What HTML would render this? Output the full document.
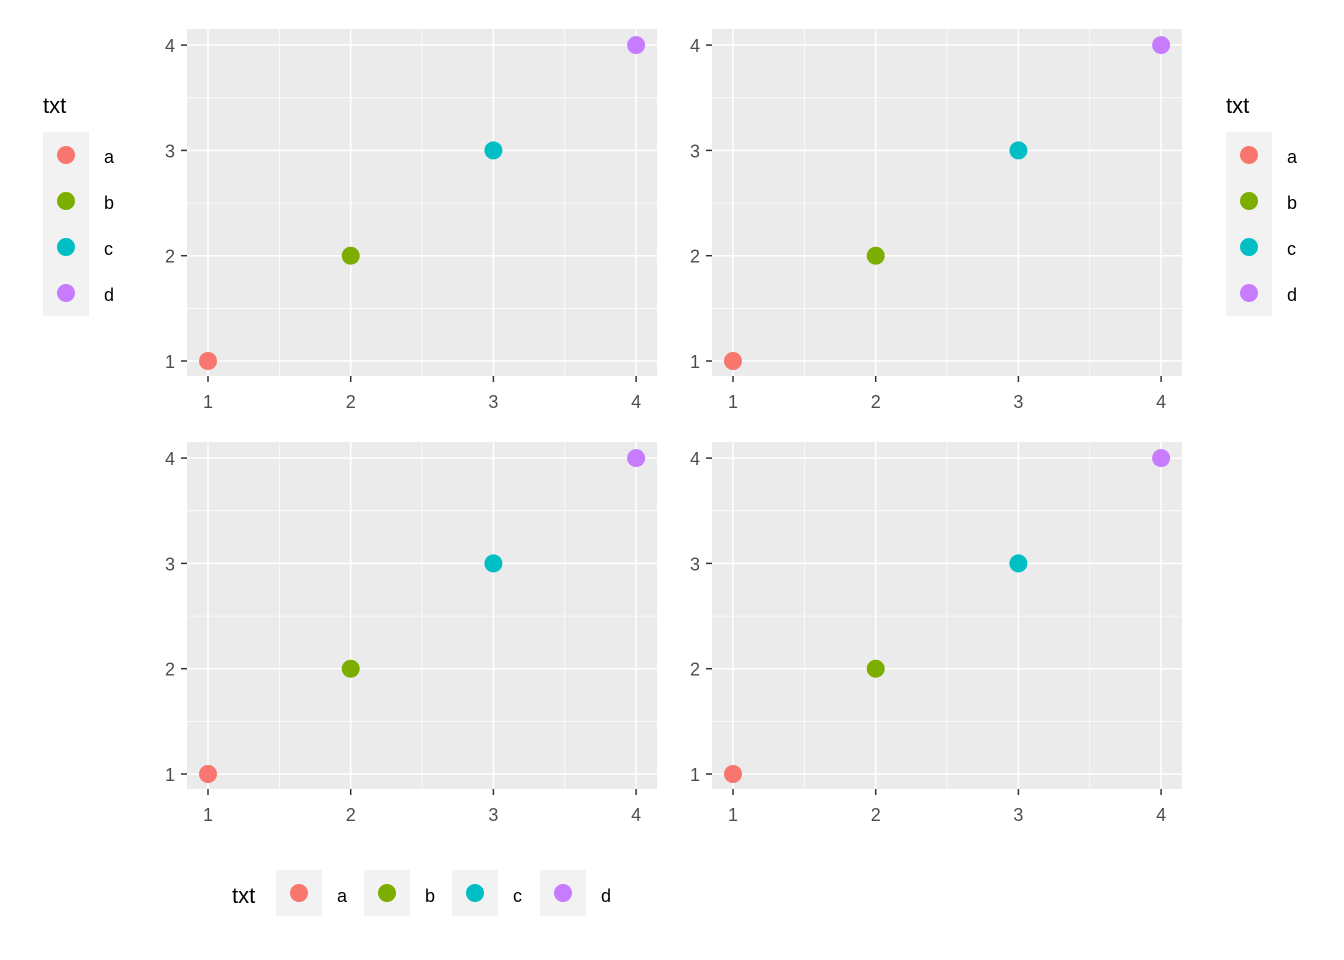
<!DOCTYPE html>
<html><head><meta charset="utf-8"><style>body{margin:0;background:#fff}svg{display:block}</style></head>
<body>
<svg id="c" width="1344" height="960" xmlns="http://www.w3.org/2000/svg" font-family="Liberation Sans, sans-serif"></svg>
<script>
const categories=['a','b','c','d'];
const xValues=[1,2,3,4];
const yValues=[1,2,3,4];
const xTicks=[1,2,3,4];
const yTicks=[1,2,3,4];
const colors=['#F8766D','#7CAE00','#00BFC4','#C77CFF'];
const NS='http://www.w3.org/2000/svg';
const svg=document.getElementById('c');
function mk(t,a,p){const e=document.createElementNS(NS,t);for(const k in a)e.setAttribute(k,a[k]);(p||svg).appendChild(e);return e;}
const panels=[[187,29],[712,29],[187,442],[712,442]];
const W=470,H=347;
panels.forEach((p,pi)=>{
  const g=mk('g',{});
  
  
  const [px,py]=p;
  const sx=v=>px+21+(v-1)*142.7;
  const sy=v=>py+332-(v-1)*105.3;
  const bg=mk('rect',{x:px,y:py,width:W,height:H,fill:'#EBEBEB'},g);
  
  
  for(let i=0;i<xTicks.length-1;i++){const m=(xTicks[i]+xTicks[i+1])/2;mk('line',{x1:sx(m),x2:sx(m),y1:py,y2:py+H,stroke:'#fff','stroke-width':0.7},g);}
  for(let i=0;i<yTicks.length-1;i++){const m=(yTicks[i]+yTicks[i+1])/2;mk('line',{y1:sy(m),y2:sy(m),x1:px,x2:px+W,stroke:'#fff','stroke-width':0.7},g);}
  xTicks.forEach(t=>{
    mk('line',{x1:sx(t),x2:sx(t),y1:py,y2:py+H,stroke:'#fff','stroke-width':1.5},g);
    mk('line',{x1:sx(t),x2:sx(t),y1:py+H,y2:py+H+6,stroke:'#333','stroke-width':1.5},g);
    const tx=mk('text',{x:sx(t),y:py+H+32,'text-anchor':'middle','font-size':18,fill:'#4D4D4D'},g);tx.textContent=t;
    
    
  });
  yTicks.forEach(t=>{
    mk('line',{y1:sy(t),y2:sy(t),x1:px,x2:px+W,stroke:'#fff','stroke-width':1.5},g);
    mk('line',{y1:sy(t),y2:sy(t),x1:px-6,x2:px,stroke:'#333','stroke-width':1.5},g);
    const tx=mk('text',{x:px-12,y:sy(t)+7,'text-anchor':'end','font-size':18,fill:'#4D4D4D'},g);tx.textContent=t;
    
    
  });
  categories.forEach((c,i)=>{
    const pt=mk('circle',{cx:sx(xValues[i]),cy:sy(yValues[i]),r:9,fill:colors[i]},g);
    
    
  });
});
function vLegend(x,name){
  const g=mk('g',{});
  
  
  const t=mk('text',{x:x,y:113,'font-size':22,fill:'#000'},g);t.textContent='txt';
  categories.forEach((c,i)=>{
    const y=132+i*46;
    mk('rect',{x:x,y:y,width:46,height:46,fill:'#F2F2F2'},g);
    mk('circle',{cx:x+23,cy:y+23,r:9,fill:colors[i]},g);
    const l=mk('text',{x:x+61,y:y+31,'font-size':18,fill:'#000'},g);l.textContent=c;
    
    
  });
}
vLegend(43,'legend-left');
vLegend(1226,'legend-right');
const bl=mk('g',{});


const bt=mk('text',{x:232,y:903,'font-size':22,fill:'#000'},bl);bt.textContent='txt';
categories.forEach((c,i)=>{
  const x=276+i*88;
  mk('rect',{x:x,y:870,width:46,height:46,fill:'#F2F2F2'},bl);
  mk('circle',{cx:x+23,cy:893,r:9,fill:colors[i]},bl);
  const l=mk('text',{x:x+61,y:902,'font-size':18,fill:'#000'},bl);l.textContent=c;
  
  
});
</script>
</body></html>
